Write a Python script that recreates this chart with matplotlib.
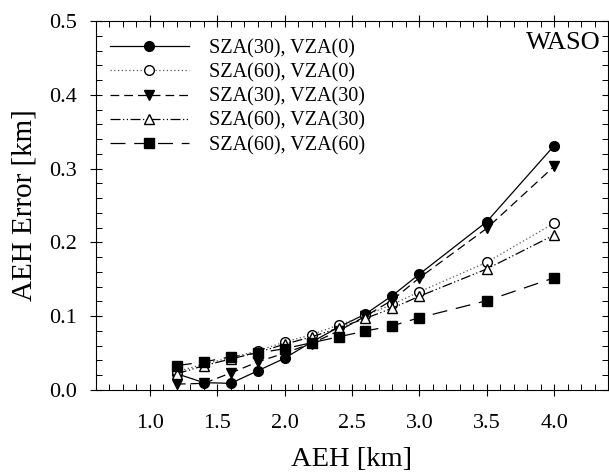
import matplotlib
matplotlib.use("Agg")
import matplotlib.pyplot as plt
from matplotlib.ticker import MultipleLocator, FormatStrFormatter

plt.rcParams['font.family'] = ['Liberation Serif', 'DejaVu Serif']

aeh = [1.2, 1.4, 1.6, 1.8, 2.0, 2.2, 2.4, 2.6, 2.8, 3.0, 3.5, 4.0]
sza30_vza0 = [0.022, 0.010, 0.009, 0.026, 0.043, 0.065, 0.085, 0.103, 0.128, 0.157, 0.228, 0.331]
sza60_vza0 = [0.025, 0.035, 0.044, 0.053, 0.065, 0.075, 0.088, 0.101, 0.116, 0.133, 0.173, 0.226]
sza30_vza30 = [0.008, 0.009, 0.023, 0.038, 0.050, 0.063, 0.080, 0.100, 0.122, 0.152, 0.219, 0.303]
sza60_vza30 = [0.022, 0.033, 0.042, 0.051, 0.062, 0.072, 0.084, 0.097, 0.111, 0.127, 0.164, 0.210]
sza60_vza60 = [0.033, 0.038, 0.045, 0.050, 0.056, 0.064, 0.072, 0.080, 0.087, 0.098, 0.121, 0.152]

labels = ['SZA(30), VZA(0)', 'SZA(60), VZA(0)', 'SZA(30), VZA(30)',
          'SZA(60), VZA(30)', 'SZA(60), VZA(60)']
xticks = [1.0, 1.5, 2.0, 2.5, 3.0, 3.5, 4.0]

fig = plt.figure(figsize=(6.09, 4.76), dpi=100)
ax = fig.add_axes([96/609, 86/476, 512/609, 369/476])

lw = 0.9
ax.plot(aeh, sza30_vza0, color='black', lw=lw, ls='-', marker='o', ms=7,
        mfc='black', mec='black', label=labels[0])
ax.plot(aeh, sza60_vza0, color='#555555', lw=lw, ls=(0, (1, 2)), marker='o', ms=7,
        mfc='white', mec='black', label=labels[1])
ax.plot(aeh, sza30_vza30, color='black', lw=lw, ls=(0, (7, 4)), marker='v', ms=7,
        mfc='black', mec='black', label=labels[2])
ax.plot(aeh, sza60_vza30, color='black', lw=lw, ls=(0, (8, 2, 1, 2, 1, 2)), marker='^', ms=7,
        mfc='white', mec='black', label=labels[3])
ax.plot(aeh, sza60_vza60, color='black', lw=lw, ls=(0, (12, 7)), marker='s', ms=6.5,
        mfc='black', mec='black', label=labels[4])

ax.set_xlim(0.6, 4.4)
ax.set_ylim(0.0, 0.5)
ax.set_xticks(xticks)
ax.xaxis.set_minor_locator(MultipleLocator(0.1))
ax.yaxis.set_major_locator(MultipleLocator(0.1))
ax.yaxis.set_minor_locator(MultipleLocator(0.02))
ax.xaxis.set_major_formatter(FormatStrFormatter('%.1f'))
ax.yaxis.set_major_formatter(FormatStrFormatter('%.1f'))

ax.tick_params(which='major', direction='inout', length=8, width=0.8,
               top=True, right=True, labelsize=16)
ax.tick_params(which='minor', direction='in', length=4, width=0.7,
               top=True, right=True)
ax.tick_params(axis='x', which='major', pad=13)
ax.tick_params(axis='y', which='major', pad=10)
for s in ['left', 'bottom', 'top', 'right']:
    ax.spines[s].set_linewidth(0.8)

ax.set_xlabel('AEH [km]', fontsize=20.5, labelpad=10)
ax.set_ylabel('AEH Error [km]', fontsize=21, labelpad=8)

ax.text(0.985, 0.94, 'WASO', transform=ax.transAxes, ha='right', va='center', fontsize=19)

leg = ax.legend(loc='upper left', frameon=False, fontsize=14.5, numpoints=1,
                handlelength=3.9, handletextpad=1.0, labelspacing=0.25,
                borderaxespad=0.3, bbox_to_anchor=(0.0, 0.99))

fig.savefig('out.png', dpi=100)
